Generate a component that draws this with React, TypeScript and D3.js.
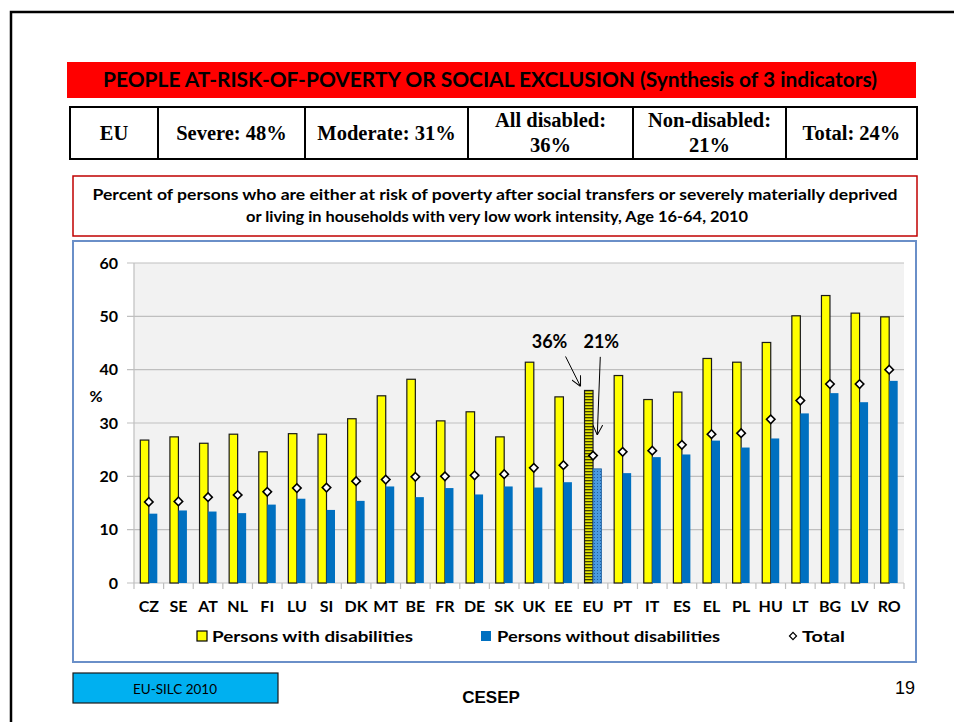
import React from "react";
import { scaleBand, scaleLinear } from "d3";

const width = 954;
const height = 722;

// data
const countries = ["CZ", "SE", "AT", "NL", "FI", "LU", "SI", "DK", "MT", "BE", "FR", "DE", "SK", "UK", "EE", "EU", "PT", "IT", "ES", "EL", "PL", "HU", "LT", "BG", "LV", "RO"];
const withDisab = [26.8, 27.4, 26.2, 27.9, 24.6, 28.0, 27.9, 30.8, 35.1, 38.2, 30.4, 32.1, 27.4, 41.4, 34.9, 36.1, 38.9, 34.4, 35.8, 42.1, 41.4, 45.1, 50.1, 53.9, 50.6, 49.9];
const withoutDisab = [13.0, 13.6, 13.4, 13.1, 14.7, 15.8, 13.7, 15.4, 18.1, 16.1, 17.8, 16.6, 18.1, 17.9, 18.9, 21.4, 20.6, 23.6, 24.1, 26.7, 25.4, 27.1, 31.8, 35.6, 33.9, 37.9];
const total = [15.2, 15.3, 16.1, 16.5, 17.1, 17.8, 17.9, 19.1, 19.4, 19.9, 20.0, 20.2, 20.4, 21.6, 22.1, 23.9, 24.6, 24.8, 25.9, 27.9, 28.1, 30.7, 34.2, 37.3, 37.3, 40.0];
const yTicks = [0, 10, 20, 30, 40, 50, 60];

const tableCells = [
  { x0: 70, x1: 158, lines: ["EU"] },
  { x0: 158, x1: 305, lines: ["Severe: 48%"] },
  { x0: 305, x1: 468, lines: ["Moderate: 31%"] },
  { x0: 468, x1: 633, lines: ["All disabled:", "36%"] },
  { x0: 633, x1: 786, lines: ["Non-disabled:", "21%"] },
  { x0: 786, x1: 917, lines: ["Total: 24%"] },
];

const sans = "Lato, 'Open Sans', sans-serif";
const serif = "'Liberation Serif', 'Times New Roman', serif";
const arial = "'Liberation Sans', Arial, sans-serif";

const plot = { left: 134, right: 904, top: 263, bottom: 583 };
const barW = 8.5;

export default function App() {
  const x = scaleBand<string>().domain(countries).range([plot.left, plot.right]);
  const y = scaleLinear().domain([0, 60]).range([plot.bottom, plot.top]);
  const bw = x.bandwidth();
  const cx = (c: string) => (x(c) as number) + bw / 2;

  // arrows pointing at the EU bars
  const euIdx = countries.indexOf("EU");
  const euYellowX = cx("EU") - barW;
  const tip1 = { x: euYellowX - 4, y: y(withDisab[euIdx]) - 4 };
  const start1 = { x: tip1.x - 15, y: tip1.y - 30 };
  const tip2 = { x: cx("EU") + barW / 2, y: y(withoutDisab[euIdx]) - 34 };
  const start2 = { x: tip2.x + 3, y: tip2.y - 78 };

  return (
    <svg width={width} height={height} style={{ position: "absolute", left: 0, top: 0 }}>
      <defs>
        <pattern id="stripes" width="6" height="3" patternUnits="userSpaceOnUse">
          <rect width="6" height="3" fill="#e6e600" />
          <rect width="6" height="1.3" fill="#404000" />
        </pattern>
        <pattern id="dots" width="3" height="3" patternUnits="userSpaceOnUse">
          <rect width="3" height="3" fill="#4a9ae0" />
          <rect width="1" height="1" fill="#1f5f9f" />
        </pattern>
        <marker id="arrow" viewBox="0 0 10 10" refX="10" refY="5" markerWidth="10" markerHeight="10" orient="auto" markerUnits="userSpaceOnUse">
          <path d="M0,0 L10,5 L0,10" fill="none" stroke="#000" strokeWidth="1" />
        </marker>
      </defs>
      <rect width={width} height={height} fill="#fff" />

      {/* slide frame */}
      <path d="M11,722 L11,12 L954,12" fill="none" stroke="#000" strokeWidth="2.5" />

      {/* title bar */}
      <rect x={67} y={62} width={849} height={36} fill="#ff0000" />
      <text x={490} y={87} textAnchor="middle" fontFamily={sans} fontWeight="bold" fontSize={21} textLength={774} lengthAdjust="spacingAndGlyphs">
        PEOPLE AT-RISK-OF-POVERTY OR SOCIAL EXCLUSION (Synthesis of 3 indicators)
      </text>

      {/* summary table */}
      <rect x={70} y={107} width={847} height={52} fill="#fff" stroke="#000" strokeWidth="2" />
      {tableCells.map((c, i) => (
        <g key={i}>
          {i > 0 && <line x1={c.x0} x2={c.x0} y1={107} y2={159} stroke="#000" strokeWidth="2" />}
          {c.lines.map((l, j) => (
            <text
              key={j}
              x={(c.x0 + c.x1) / 2}
              y={c.lines.length === 1 ? 140 : 127 + j * 25}
              textAnchor="middle"
              fontFamily={serif}
              fontWeight="bold"
              fontSize={20.5}
            >
              {l}
            </text>
          ))}
        </g>
      ))}

      {/* subtitle */}
      <rect x={73} y={176} width={844} height={60} fill="#fff" stroke="#c00000" strokeWidth="1.5" />
      <text x={495} y={200} textAnchor="middle" fontFamily={sans} fontWeight="bold" fontSize={15.5} textLength={805} lengthAdjust="spacingAndGlyphs">
        Percent of persons who are either at risk of poverty after social transfers or severely materially deprived
      </text>
      <text x={497} y={222} textAnchor="middle" fontFamily={sans} fontWeight="bold" fontSize={15.5} textLength={502} lengthAdjust="spacingAndGlyphs">
        or living in households with very low work intensity, Age 16-64, 2010
      </text>

      {/* chart frame */}
      <rect x={73} y={241} width={843} height={421} fill="#fff" stroke="#6a8fc8" strokeWidth="2" />
      <rect x={plot.left} y={plot.top} width={plot.right - plot.left} height={plot.bottom - plot.top} fill="#f2f2f2" />

      {yTicks.map((t) => (
        <g key={t}>
          <line x1={plot.left - 7} x2={plot.right} y1={y(t)} y2={y(t)} stroke="#bfbfbf" strokeWidth="1.2" />
          <text x={118} y={y(t) + 5.5} textAnchor="end" fontFamily={sans} fontWeight="bold" fontSize={16}>
            {t}
          </text>
        </g>
      ))}
      <line x1={plot.left} x2={plot.left} y1={plot.top} y2={plot.bottom} stroke="#bfbfbf" strokeWidth="1.2" />
      <text x={96} y={402} textAnchor="middle" fontFamily={sans} fontWeight="bold" fontSize={16}>
        %
      </text>

      {countries.map((c) => (
        <line key={c} x1={x(c) as number} x2={x(c) as number} y1={plot.bottom} y2={plot.bottom + 6} stroke="#bfbfbf" strokeWidth="1.2" />
      ))}
      <line x1={plot.right} x2={plot.right} y1={plot.bottom} y2={plot.bottom + 6} stroke="#bfbfbf" strokeWidth="1.2" />

      {/* bars */}
      {countries.map((c, i) => {
        const isEU = c === "EU";
        return (
          <g key={c}>
            <rect
              x={cx(c) - barW}
              y={y(withDisab[i])}
              width={barW}
              height={y(0) - y(withDisab[i])}
              fill={isEU ? "url(#stripes)" : "#ffff00"}
              stroke="#1a1a1a"
              strokeWidth="1.2"
            />
            <rect
              x={cx(c)}
              y={y(withoutDisab[i])}
              width={barW}
              height={y(0) - y(withoutDisab[i])}
              fill={isEU ? "url(#dots)" : "#0070c0"}
              stroke={isEU ? "#1f5f9f" : "none"}
              strokeWidth="0.8"
            />
          </g>
        );
      })}

      {/* totals */}
      {countries.map((c, i) => (
        <rect
          key={c}
          x={-3}
          y={-3}
          width={6}
          height={6}
          transform={`translate(${cx(c)},${y(total[i])}) rotate(45)`}
          fill="#fff"
          stroke="#000"
          strokeWidth="1.6"
        />
      ))}

      {/* x labels */}
      {countries.map((c) => (
        <text key={c} x={cx(c)} y={612} textAnchor="middle" fontFamily={sans} fontWeight="bold" fontSize={16}>
          {c}
        </text>
      ))}

      {/* annotations */}
      <line x1={start1.x} y1={start1.y} x2={tip1.x} y2={tip1.y} stroke="#000" strokeWidth="1" markerEnd="url(#arrow)" />
      <line x1={start2.x} y1={start2.y} x2={tip2.x} y2={tip2.y} stroke="#000" strokeWidth="1" markerEnd="url(#arrow)" />
      <text x={start1.x - 16} y={348} textAnchor="middle" fontFamily={sans} fontWeight="bold" fontSize={18}>
        36%
      </text>
      <text x={start2.x + 1} y={348} textAnchor="middle" fontFamily={sans} fontWeight="bold" fontSize={18}>
        21%
      </text>

      {/* legend */}
      <rect x={197} y={631} width={10} height={10} fill="#ffff00" stroke="#000" strokeWidth="1.2" />
      <text x={212} y={642} fontFamily={sans} fontWeight="bold" fontSize={16} textLength={201} lengthAdjust="spacingAndGlyphs">
        Persons with disabilities
      </text>
      <rect x={481} y={631} width={10} height={10} fill="#0070c0" />
      <text x={497} y={642} fontFamily={sans} fontWeight="bold" fontSize={16} textLength={223} lengthAdjust="spacingAndGlyphs">
        Persons without disabilities
      </text>
      <rect x={-2.5} y={-2.5} width={5} height={5} transform="translate(793,636) rotate(45)" fill="#fff" stroke="#000" strokeWidth="1.2" />
      <text x={802} y={642} fontFamily={sans} fontWeight="bold" fontSize={16} textLength={43} lengthAdjust="spacingAndGlyphs">
        Total
      </text>

      {/* footer */}
      <rect x={73} y={673} width={205} height={30} fill="#00b0f0" stroke="#1a1a1a" strokeWidth="1.2" />
      <text x={175} y={694} textAnchor="middle" fontFamily={sans} fontSize={13.5} textLength={84} lengthAdjust="spacingAndGlyphs">
        EU-SILC 2010
      </text>
      <text x={491} y={703} textAnchor="middle" fontFamily={arial} fontWeight="bold" fontSize={17}>
        CESEP
      </text>
      <text x={905} y={694} textAnchor="middle" fontFamily={arial} fontSize={18}>
        19
      </text>
    </svg>
  );
}
